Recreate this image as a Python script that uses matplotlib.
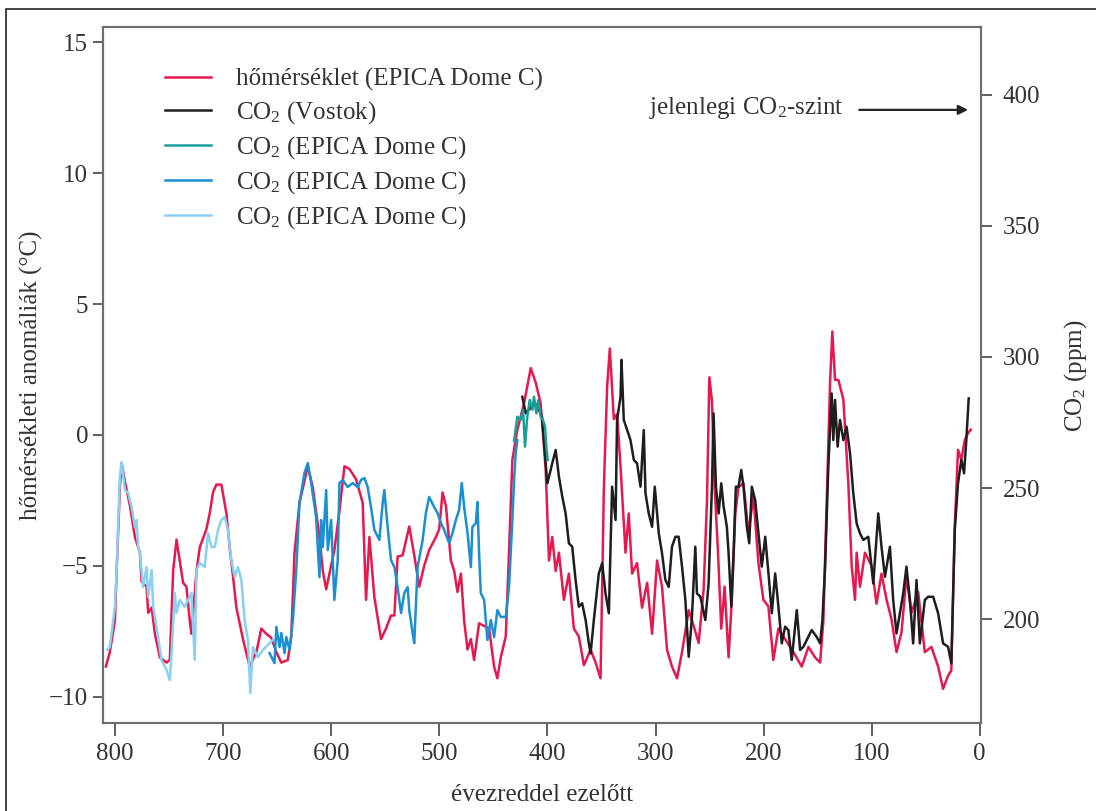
import matplotlib
matplotlib.use("Agg")
import matplotlib.pyplot as plt
from matplotlib.patches import Rectangle

plt.rcParams['font.family'] = ['Liberation Serif', 'DejaVu Serif']
plt.rcParams['mathtext.fontset'] = 'custom'
plt.rcParams['mathtext.rm'] = 'Liberation Serif'
plt.rcParams['mathtext.it'] = 'Liberation Serif:italic'
plt.rcParams['axes.unicode_minus'] = True

# temperature anomaly, EPICA Dome C (ka, degC)
temp_ka = [808.6, 805, 800.3, 798.7, 795.7, 794.1, 791, 786.4, 781.8, 777.2, 775.6, 771, 769.5,
           766.3, 763.3, 758.7, 752.5, 749.5, 746.4, 743.3, 740.3, 737.2, 734.1, 731, 729.5,
           724.8, 721.8, 715.6, 712.6, 709.5, 706.4, 701.8, 697.1, 694.1, 691, 687.9, 681.8,
           675.6, 669.4, 664.8, 660.2, 655.6, 650.9, 646.3, 640.3, 637.1, 634.1, 629.5, 621.8,
           617.2, 611, 607.9, 604.8, 601.8, 597.2, 592.5, 587.9, 583.3, 577.1, 571, 567.9,
           564.8, 560.2, 554, 549.4, 544.8, 541.7, 538.7, 534.1, 527.9, 523.3, 518.7, 514.1,
           509.5, 503.2, 500.2, 497.1, 494, 489.4, 486.3, 483.3, 480.1, 477.1, 474, 470.9,
           467.9, 463.3, 458.6, 454, 449.4, 446.4, 443.2, 438.6, 435.6, 432.5, 427.9, 421.7,
           415.5, 410.9, 406.3, 401.7, 398.6, 395.6, 392.4, 389.4, 384.8, 380.2, 375.6, 371,
           366.3, 360.1, 355.5, 350.9, 347.8, 344.8, 342.3, 338.6, 335.6, 332.4, 327.8, 324.8,
           321.7, 317.1, 312.5, 307.8, 303.2, 298.6, 294, 289.4, 284.8, 280.1, 275.5, 269.3,
           264.7, 260.1, 255.5, 252.4, 250.2, 247.8, 245.3, 242.3, 239.2, 236.1, 232.4, 229.4,
           226.2, 223.2, 218.6, 214, 209.4, 204.8, 200.2, 195.6, 191, 186.3, 180.1, 172.4,
           164.7, 158.5, 152.4, 147.7, 144.7, 141.6, 138.5, 136.4, 133.9, 130.8, 126.2, 121.6,
           118.5, 115.4, 113.9, 110.8, 106.2, 100.1, 95.5, 90.9, 86.2, 81.6, 77, 72.4, 67.8,
           63.2, 57, 50.8, 44.7, 38.5, 33.9, 29.3, 26.3, 23.1, 20.1, 17, 13.9, 10.8, 8.3]
temp_val = [-8.85, -8.3, -7.1, -5.2, -2.0, -1.07, -1.8, -2.7, -3.9, -4.5, -5.6, -5.8, -6.8,
            -6.6, -7.6, -8.5, -8.7, -8.6, -5.2, -4.0, -4.8, -5.65, -5.8, -7.1, -7.6,
            -5.2, -4.3, -3.6, -3.0, -2.2, -1.9, -1.9, -3.0, -4.3, -5.4, -6.6, -7.8,
            -8.85, -8.3, -7.4, -7.6, -7.75, -8.3, -8.7, -8.6, -7.7, -4.5, -2.6, -1.2,
            -2.0, -3.9, -5.2, -5.9, -5.3, -4.4, -2.9, -1.2, -1.3, -1.7, -2.6, -6.3,
            -3.9, -6.2, -7.8, -7.4, -6.9, -6.9, -4.65, -4.6, -3.5, -4.6, -5.8, -5.0,
            -4.4, -3.9, -3.6, -2.2, -2.7, -4.8, -5.2, -6.0, -5.3, -7.1, -8.2, -7.8,
            -8.6, -7.2, -7.3, -7.4, -8.85, -9.3, -8.5, -7.7, -4.5, -0.95, 0.2, 1.2,
            2.55, 2.0, 1.2, -1.3, -4.8, -3.9, -5.2, -4.5, -6.3, -5.3, -7.4, -7.7,
            -8.8, -8.2, -8.7, -9.3, -2.0, 1.85, 3.3, 0.6, 0.8, -1.2, -4.5, -3.0,
            -5.3, -4.9, -6.6, -5.65, -7.6, -4.8, -5.8, -8.2, -8.85, -9.3, -8.3, -6.7,
            -7.3, -7.95, -5.9, -2.5, 2.2, 1.3, -2.0, -4.4, -7.4, -5.8, -8.5, -6.3,
            -3.0, -2.0, -1.85, -3.75, -2.35, -4.9, -6.3, -6.55, -8.6, -7.4, -7.8, -8.3,
            -8.85, -8.1, -8.5, -8.7, -7.1, -2.5, 2.0, 3.95, 2.1, 2.1, 1.35, -1.85,
            -5.0, -6.3, -4.5, -5.8, -4.5, -5.0, -6.45, -5.3, -6.3, -7.05, -8.3, -7.55, -5.4,
            -6.8, -6.0, -8.3, -8.1, -8.85, -9.7, -9.2, -9.0, -3.5, -0.57, -0.95, -0.2, 0.07, 0.2]

# CO2, Vostok (ka, ppm)
vostok_ka = [423.3, 420.1, 415, 410, 405, 401.7, 400.2, 398.6, 395.6, 392.4, 389.4, 386.3,
             383.2, 380.2, 377.1, 374, 371, 367.9, 364.7, 361.7, 360.1, 357.1, 352.5, 349.4,
             346.3, 343.2, 340.2, 337, 335.6, 332.4, 331.5, 329.4, 326.3, 323.2, 320.1, 317.1,
             313.9, 310.9, 309.3, 306.3, 303.2, 300.7, 297, 294, 290.9, 287.8, 284.8, 281.6,
             278.6, 275.5, 272.4, 269.3, 266.3, 263.2, 261.7, 258.5, 253.9, 250.9, 247.8,
             246.3, 244.1, 241.6, 239.2, 237, 234, 232.4, 229.9, 227.8, 225.7, 223.2, 220.7,
             218.6, 215.5, 213.3, 210.9, 207.8, 204.8, 201.7, 198.5, 195.5, 192.4, 189.3,
             186.3, 183.2, 180.1, 177.1, 174, 169.3, 166.2, 163.2, 160.1, 155.5, 150.9,
             147.7, 145.6, 143.1, 140.1, 137, 135.5, 133.9, 131.5, 129.3, 126.2, 123.2, 120,
             117, 113.9, 110.8, 107.8, 103.1, 98.5, 93.9, 90.9, 87.7, 83.1, 80.1, 77, 73.9,
             70.8, 67.8, 64.6, 61.6, 58.5, 55.4, 50.8, 47.7, 43.1, 38.5, 33.9, 29.3, 26.3,
             23.1, 20.1, 17, 14.5, 12.4, 10.2]
vostok_val = [284.8, 278.5, 281, 282, 277, 259.4, 251.8, 254.3, 259.4, 264.5, 254.3, 246.7,
              240.3, 228.9, 227.6, 214.9, 204.7, 206.0, 199.6, 190.7, 186.9, 199.6, 217.4, 221.3,
              209.8, 202.2, 250.5, 237.8, 276.0, 284.8, 298.9, 276.0, 272.1, 268.3, 260.7, 259.4,
              250.5, 272.1, 248.0, 240.3, 235.2, 250.5, 232.7, 225.1, 214.9, 212.3, 227.6, 231.4,
              231.4, 220.0, 207.3, 185.6, 200.9, 227.6, 209.8, 208.5, 199.6, 213.6, 250.5,
              278.5, 250.5, 240.3, 251.8, 242.9, 235.2, 225.1, 204.7, 225.1, 250.5, 250.5, 256.9,
              250.5, 235.2, 228.9, 250.5, 245.4, 232.7, 220.0, 231.4, 217.4, 202.2, 217.4,
              204.7, 190.7, 197.1, 195.8, 184.4, 203.4, 188.2, 189.4, 192.0, 195.8, 193.2,
              190.7, 199.6, 220.0, 258.1, 286.1, 268.3, 283.6, 265.8, 276.0, 268.3, 273.4, 263.2,
              248.0, 236.5, 232.7, 230.2, 231.4, 213.6, 240.3, 227.6, 216.1, 227.6, 207.3, 194.5, 202.2,
              209.8, 220.0, 207.3, 190.7, 214.9, 190.7, 207.3, 208.5, 208.5, 202.2, 190.7, 189.4, 183.1,
              234.0, 251.8, 260.7, 255.6, 268.3, 284.2]

# CO2, EPICA Dome C (three segments)
edc1_ka = [430.9, 427.9, 424.8, 422.6, 420.8, 418.7, 416.4, 414.0, 412.5, 410.3, 408.5, 406.3,
           404.2, 402.3, 401.1, 399.8]
edc1_val = [268, 277.2, 276.0, 279.8, 265.8, 277.2, 283.6, 279.8, 284.8, 278.5, 283.6, 277.2,
            276.0, 273.4, 265.8, 260.7]

edc2_ka = [657.2, 652.6, 650.9, 647.9, 646.3, 643.3, 641.7, 638.7, 635.6, 632.5, 629.5, 624.9,
           621.8, 618.7, 614.1, 611, 609.5, 607.9, 604.8, 603.3, 600.2, 597.2, 594.1, 592.5,
           589.5, 584.9, 580.2, 575.6, 572.5, 569.4, 566.4, 563.3, 560.2, 555.6, 552.5, 551,
           547.9, 544.8, 541.7, 538.7, 535.5, 532.5, 529.4, 527.9, 524.8, 523.3, 520.2, 515.6,
           512.5, 509.5, 504.8, 501.8, 498.6, 495.6, 491, 487.9, 484.8, 481.8, 479.3, 477.1,
           474, 470.9, 469.5, 466.3, 464.8, 463.3, 461.7, 458.6, 455.6, 452.4, 449.4, 446.4,
           443.2, 438.6, 435.6, 432.5, 430.9, 429.4, 427.9]
edc2_val = [187.0, 183.2, 197.0, 189.3, 194.7, 187.0, 193.1, 188.2, 199.6, 218.7, 244.3, 255.7,
            259.5, 251.9, 238.9, 216.0, 237.8, 227.5, 249.2, 226.3, 237.8, 207.3, 222.5, 251.9,
            253.1, 250.4, 251.9, 250.4, 253.1, 253.8, 250.4, 242.7, 234.0, 230.2, 244.3, 249.2,
            235.1, 222.5, 219.8, 212.2, 202.3, 209.9, 212.2, 203.4, 194.7, 190.8, 219.8, 230.0,
            240.5, 246.6, 242.7, 240.5, 236.6, 234.0, 229.0, 232.8, 237.8, 241.6, 251.9, 242.7,
            232.8, 219.8, 235.1, 236.6, 244.7, 225.2, 209.9, 207.3, 192.0, 199.6, 193.1, 203.4,
            200.8, 200.8, 212.2, 237.8, 253.1, 263.4, 268.3]

edc3_ka = [807.4, 805, 800.3, 798.7, 795.7, 794.1, 791, 788, 784.9, 781.8, 780.3, 778.8, 777.2,
           774.2, 771, 769.5, 766.3, 764.9, 761.8, 757.2, 752.5, 749.5, 747.9, 744.9, 743.3,
           740.3, 735.6, 732.6, 729.5, 726.4, 724.8, 721.8, 717.2, 714.1, 711, 707.9, 704.9,
           701.8, 698.7, 695.7, 692.5, 689.5, 686.4, 683.3, 680.3, 677.2, 675, 672.6, 668,
           663.4, 657.2, 654.1]
edc3_val = [188.2, 189.3, 204.6, 218.7, 254.2, 259.9, 249.2, 248.1, 242.7, 235.1, 237.8, 227.5,
            225.2, 212.2, 219.8, 208.4, 218.7, 204.6, 197.0, 184.4, 180.5, 176.7, 187.0, 209.9,
            202.3, 207.3, 204.6, 207.3, 209.9, 184.4, 218.7, 221.4, 219.8, 232.8, 227.5, 227.5,
            234.0, 237.8, 238.9, 234.0, 222.5, 216.0, 219.8, 214.9, 199.6, 192.0, 171.8, 189.3,
            185.5, 188.2, 190.8, 192.0]

current_co2 = 394.3

RED = '#e5194d'
BLACK = '#1e1e1e'
TEAL = '#1a9e97'
BLUE = '#1b8fd2'
LIGHT = '#8ad0f2'
SPINE = '#6e6e6e'
TXT = '#333333'

fig = plt.figure(figsize=(10.96, 8.11), dpi=100)
ax = fig.add_axes([0.0937, 0.1081, 0.8011, 0.8582])
ax2 = ax.twinx()

l_temp, = ax.plot(temp_ka, temp_val, color=RED, lw=1.8)
l_vos, = ax2.plot(vostok_ka, vostok_val, color=BLACK, lw=1.8)
l_e1, = ax2.plot(edc1_ka, edc1_val, color=TEAL, lw=1.8)
l_e2, = ax2.plot(edc2_ka, edc2_val, color=BLUE, lw=1.8)
l_e3, = ax2.plot(edc3_ka, edc3_val, color=LIGHT, lw=1.8)

ax.set_xlim(811.6, -0.9)
ax.set_ylim(-11.02, 15.57)
ax2.set_ylim(160.2, 425.8)

ax.set_xticks([800, 700, 600, 500, 400, 300, 200, 100, 0])
ax.set_yticks([-10, -5, 0, 5, 10, 15])
ax2.set_yticks([200, 250, 300, 350, 400])

for a in (ax, ax2):
    for s in a.spines.values():
        s.set_color(SPINE)
        s.set_linewidth(1.5)
ax.tick_params(axis='y', length=7, width=1.2, color='#444444', pad=3.5, labelsize=18, labelcolor=TXT)
ax.tick_params(axis='x', length=9, width=1.2, color='#444444', pad=5, labelsize=18, labelcolor=TXT)
ax2.tick_params(axis='y', length=8, width=1.2, color='#444444', pad=8, labelsize=18, labelcolor=TXT)

ax.set_xlabel('évezreddel ezelőtt', fontsize=18, color=TXT, labelpad=14)
ax.set_ylabel('hőmérsékleti anomáliák (°C)', fontsize=18, color=TXT, labelpad=4)
ax2.set_ylabel('CO$_2$ (ppm)', fontsize=18, color=TXT, labelpad=16)

ax2.annotate('', xy=(10.8, current_co2), xytext=(111.5, current_co2),
             arrowprops=dict(arrowstyle='-|>', color='#222222', lw=1.6, mutation_scale=14,
                             shrinkA=0, shrinkB=0))
ax2.text(126.2, 395.0, 'jelenlegi CO$_2$-szint', fontsize=18, color=TXT, ha='right', va='center')

ax2.legend([l_temp, l_vos, l_e1, l_e2, l_e3],
           ['hőmérséklet (EPICA Dome C)', 'CO$_2$ (Vostok)', 'CO$_2$ (EPICA Dome C)',
            'CO$_2$ (EPICA Dome C)', 'CO$_2$ (EPICA Dome C)'],
           loc='upper left', bbox_to_anchor=(0.1505, 0.9165), bbox_transform=fig.transFigure,
           frameon=False, borderpad=0, borderaxespad=0, handlelength=1.84, handletextpad=1.0,
           labelspacing=0.33, fontsize=18, labelcolor=TXT)

# outer frame of the figure panel
fig.patches.append(Rectangle((5.7 / 1096, -0.1), 1.2, 0.9885 + 0.1, transform=fig.transFigure,
                             fill=False, edgecolor='#222222', lw=1.2))

fig.savefig('out.png', dpi=100)
